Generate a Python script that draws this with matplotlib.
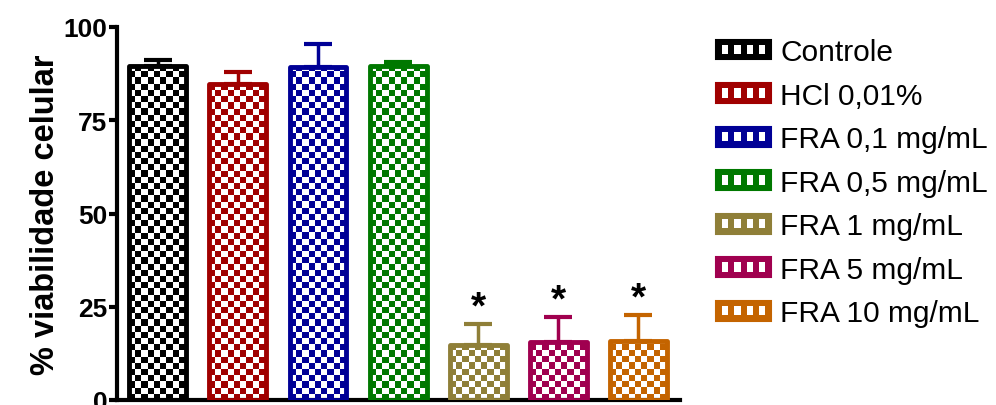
import numpy as np
import matplotlib
matplotlib.use('Agg')
import matplotlib.pyplot as plt
from matplotlib.patches import Rectangle
from matplotlib.legend_handler import HandlerBase

plt.rcParams['font.family'] = ['Liberation Sans', 'DejaVu Sans']

# data
grupos = ['Controle', 'HCl 0,01%', 'FRA 0,1 mg/mL', 'FRA 0,5 mg/mL',
          'FRA 1 mg/mL', 'FRA 5 mg/mL', 'FRA 10 mg/mL']
media = [89.5, 84.7, 89.2, 89.5, 14.8, 15.6, 15.9]
erro = [1.6, 3.2, 6.2, 1.2, 5.6, 6.7, 6.9]
signif = ['', '', '', '', '*', '*', '*']
cores = ['#000000', '#a00000', '#000096', '#007800',
         '#8f7f38', '#a0004f', '#c46400']

fig = plt.figure(figsize=(9.96, 4.06), dpi=100)
ax = fig.add_axes([117 / 996, 1 - 401 / 406, (680 - 117) / 996, (401 - 28) / 406])
ax.set_xlim(-0.51, 6.52)
ax.set_ylim(0, 100)

x = np.arange(len(grupos))
larg = 0.71
cell_px = 6.2

# pixel -> data sizes for the checker squares
p0 = ax.transData.inverted().transform((0, 0))
p1 = ax.transData.inverted().transform((cell_px, cell_px))
dx, dy = p1 - p0

for i in range(len(grupos)):
    c = cores[i]
    x0 = x[i] - larg / 2
    bar = Rectangle((x0, 0), larg, media[i], facecolor='white',
                    edgecolor='none', zorder=2)
    ax.add_patch(bar)
    nx = int(np.ceil(larg / dx)) + 1
    ny = int(np.ceil(media[i] / dy)) + 1
    rgba = np.zeros((ny, nx, 4))
    col = matplotlib.colors.to_rgba(c)
    for r in range(ny):
        for k in range(nx):
            if (r + k) % 2 == 0:
                rgba[r, k] = col
    im = ax.imshow(rgba, extent=(x0, x0 + nx * dx, 0, ny * dy), origin='lower',
                   interpolation='nearest', aspect='auto', zorder=3)
    im.set_clip_path(bar)
    ax.add_patch(Rectangle((x0, 0), larg, media[i], facecolor='none',
                           edgecolor=c, linewidth=3.5, joinstyle='round', zorder=4))
    ax.errorbar(x[i], media[i], yerr=[[0], [erro[i]]], fmt='none', ecolor=c,
                elinewidth=2.5, capsize=10, capthick=3, zorder=1)
    if signif[i]:
        ax.annotate(signif[i], (x[i], media[i] + erro[i]), xytext=(0, -1),
                    textcoords='offset points', ha='center', va='bottom',
                    fontsize=28, fontweight='bold')

ax.set_aspect('auto')
ax.set_xlim(-0.51, 6.52)
ax.set_ylim(0, 100)

for s in ['top', 'right']:
    ax.spines[s].set_visible(False)
for s in ['left', 'bottom']:
    ax.spines[s].set_linewidth(3)
ax.set_xticks([])
ax.set_yticks([0, 25, 50, 75, 100])
ax.tick_params(axis='y', width=3, length=6, labelsize=19, pad=1)
for t in ax.get_yticklabels():
    t.set_fontweight('bold')
ax.set_ylabel('% viabilidade celular', fontsize=23.5, fontweight='bold', labelpad=2)


class Xadrez(HandlerBase):
    def create_artists(self, legend, orig_handle, xdescent, ydescent,
                       width, height, fontsize, trans):
        c = orig_handle.get_edgecolor()
        arts = [Rectangle((-xdescent, -ydescent), width, height, facecolor=c,
                          edgecolor=c, linewidth=1.5, transform=trans)]
        n = 9
        w = width / n
        hh = height / 3
        for k in range(1, n - 1):
            if k % 2 == 1:
                arts.append(Rectangle((-xdescent + k * w, -ydescent + hh * 0.8), w,
                                      hh * 1.4, facecolor='white', edgecolor='none',
                                      transform=trans))
        return arts


handles = [Rectangle((0, 0), 1, 1, edgecolor=c) for c in cores]
fig.legend(handles, grupos, handler_map={Rectangle: Xadrez()},
           loc='upper left', bbox_to_anchor=(716 / 996, 1 - 39 / 406),
           frameon=False, fontsize=21.5, handlelength=1.85, handleheight=0.65,
           handletextpad=0.3, labelspacing=0.52, borderaxespad=0, borderpad=0)

fig.savefig('out.png', dpi=100)
